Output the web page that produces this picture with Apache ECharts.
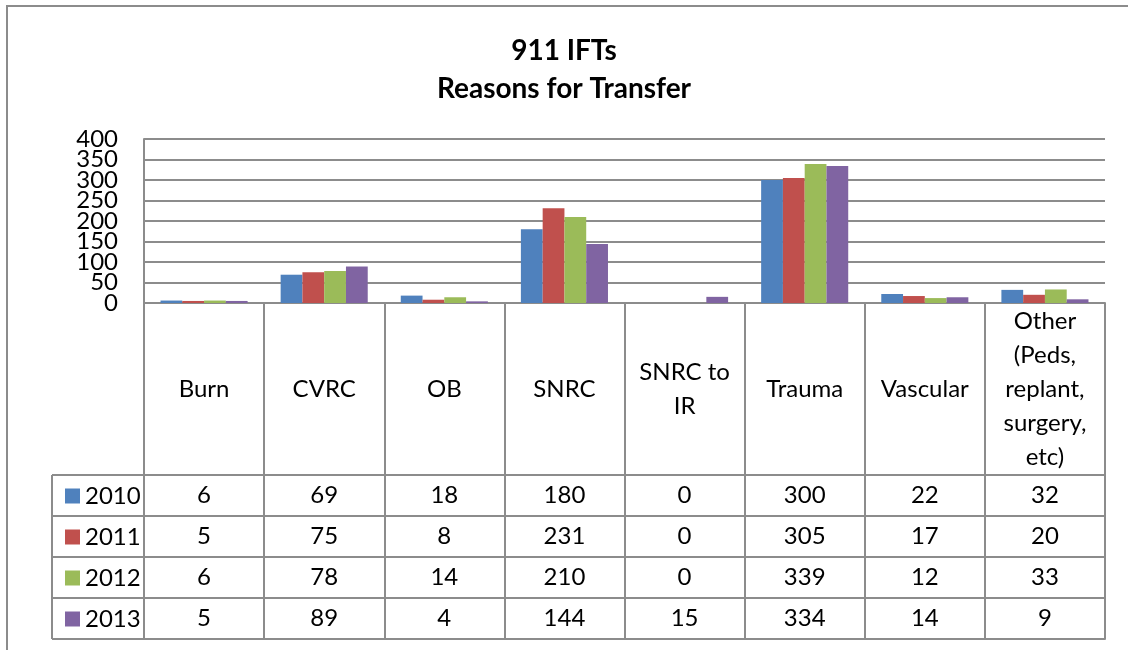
<!DOCTYPE html>
<html>
<head>
<meta charset="utf-8">
<script src="https://cdn.jsdelivr.net/npm/echarts@6/dist/echarts.min.js"></script>
<style>
  html, body { margin: 0; padding: 0; background: #fff; }
  #chart_container { width: 1128px; height: 650px; }
</style>
</head>
<body>
<div id="chart_container"></div>
<script>
"use strict";

// data
const categories = ['Burn', 'CVRC', 'OB', 'SNRC', 'SNRC to\nIR', 'Trauma', 'Vascular', 'Other\n(Peds,\nreplant,\nsurgery,\netc)'];
const years = ['2010', '2011', '2012', '2013'];
const v2010 = [6, 69, 18, 180, 0, 300, 22, 32];
const v2011 = [5, 75, 8, 231, 0, 305, 17, 20];
const v2012 = [6, 78, 14, 210, 0, 339, 12, 33];
const v2013 = [5, 89, 4, 144, 15, 334, 14, 9];
const yTicks = [0, 50, 100, 150, 200, 250, 300, 350, 400];

const values = [v2010, v2011, v2012, v2013];
const colors = ['#4F81BD', '#C0504D', '#9BBB59', '#8064A2'];

const FONT = 'Lato';
const GRAY = '#8c8c8c';
const HEAD_H = 172;   // category label band under the plot
const ROW_H = 41;     // data table row height
const PLOT_BOTTOM = 303;

let myChart;

// one category axis per table row, labels are that year's values
function rowAxis(r) {
    return {
        type: 'category',
        data: categories,
        position: 'bottom',
        offset: HEAD_H + ROW_H * r,
        axisLine: { show: true, onZero: false, lineStyle: { color: GRAY, width: 2 } },
        axisTick: { show: true, length: ROW_H, inside: false, lineStyle: { color: GRAY, width: 2 } },
        axisLabel: {
            interval: 0,
            margin: ROW_H / 2,
            verticalAlign: 'middle',
            fontFamily: FONT,
            fontSize: 24,
            color: '#000',
            formatter: (val, idx) => String(values[r][idx])
        },
        splitLine: { show: false }
    };
}

let xAxes = [
    {
        type: 'category',
        data: categories,
        position: 'bottom',
        axisLine: { show: true, onZero: false, lineStyle: { color: GRAY, width: 2 } },
        axisTick: { show: true, length: HEAD_H, lineStyle: { color: GRAY, width: 2 } },
        axisLabel: {
            interval: 0,
            margin: HEAD_H / 2,
            verticalAlign: 'middle',
            fontFamily: FONT,
            fontSize: 24,
            lineHeight: 34,
            color: '#000'
        }
    }
];
years.forEach((y, r) => xAxes.push(rowAxis(r)));
// closing line under the last row
xAxes.push({
    type: 'category',
    data: categories,
    position: 'bottom',
    offset: HEAD_H + ROW_H * years.length,
    axisLine: { show: true, onZero: false, lineStyle: { color: GRAY, width: 2 } },
    axisTick: { show: false },
    axisLabel: { show: false }
});

// legend keys in the left table column, one legend per row
let legends = years.map((y, r) => ({
    data: [y],
    left: 60,
    top: PLOT_BOTTOM + HEAD_H + ROW_H * r + 4,
    icon: 'rect',
    itemWidth: 15,
    itemHeight: 15,
    itemGap: 6,
    selectedMode: false,
    textStyle: { fontFamily: FONT, fontSize: 24, color: '#000' }
}));

// frame of the left table column
let tableTop = PLOT_BOTTOM + HEAD_H;
let frame = [];
for (let r = 0; r <= years.length; r++) {
    frame.push({
        type: 'line',
        shape: { x1: 52, y1: tableTop + ROW_H * r, x2: 144, y2: tableTop + ROW_H * r },
        style: { stroke: GRAY, lineWidth: 2 }
    });
}
frame.push({
    type: 'line',
    shape: { x1: 52, y1: tableTop, x2: 52, y2: tableTop + ROW_H * years.length },
    style: { stroke: GRAY, lineWidth: 2 }
});
// outer chart border
frame.push({
    type: 'rect',
    shape: { x: 7, y: 6, width: 1140, height: 700 },
    style: { stroke: GRAY, lineWidth: 2, fill: 'none' }
});

let yMin = yTicks[0];
let yMax = yTicks[yTicks.length - 1];
let yLabelStyle = { margin: 26, fontFamily: FONT, fontSize: 24, color: '#000' };

let optEchart = {
    animation: false,
    backgroundColor: '#fff',
    title: {
        text: '911 IFTs\nReasons for Transfer',
        left: 'center',
        top: 27,
        textStyle: { fontFamily: FONT, fontSize: 28, fontWeight: 'bold', color: '#000', lineHeight: 38 }
    },
    legend: legends,
    grid: { left: 144, right: 23, top: 139, bottom: 650 - PLOT_BOTTOM, containLabel: false },
    xAxis: xAxes,
    // labels are packed tightly, so the odd ticks get their own axis
    yAxis: [
        {
            type: 'value',
            min: yMin,
            max: yMax,
            interval: 50,
            axisLine: { show: true, onZero: false, lineStyle: { color: GRAY, width: 2 } },
            axisTick: { show: false },
            axisLabel: Object.assign({}, yLabelStyle, {
                showMinLabel: true,
                showMaxLabel: true,
                formatter: v => (v % 100 === 0 ? String(v) : '')
            }),
            splitLine: { show: true, lineStyle: { color: GRAY, width: 2 } }
        },
        {
            type: 'value',
            position: 'left',
            min: yMin,
            max: yMax,
            interval: 50,
            axisLine: { show: false, onZero: false },
            axisTick: { show: false },
            axisLabel: Object.assign({}, yLabelStyle, {
                showMinLabel: false,
                showMaxLabel: false,
                formatter: v => (v % 100 === 50 ? String(v) : '')
            }),
            splitLine: { show: false }
        }
    ],
    series: years.map((y, r) => ({
        name: y,
        type: 'bar',
        xAxisIndex: 0,
        yAxisIndex: 0,
        data: values[r],
        itemStyle: { color: colors[r] },
        barGap: '0%',
        barCategoryGap: '27.5%'
    })),
    graphic: frame
};

let chartDom = document.getElementById('chart_container');
myChart = echarts.init(chartDom);
optEchart && myChart.setOption(optEchart);
</script>
</body>
</html>
